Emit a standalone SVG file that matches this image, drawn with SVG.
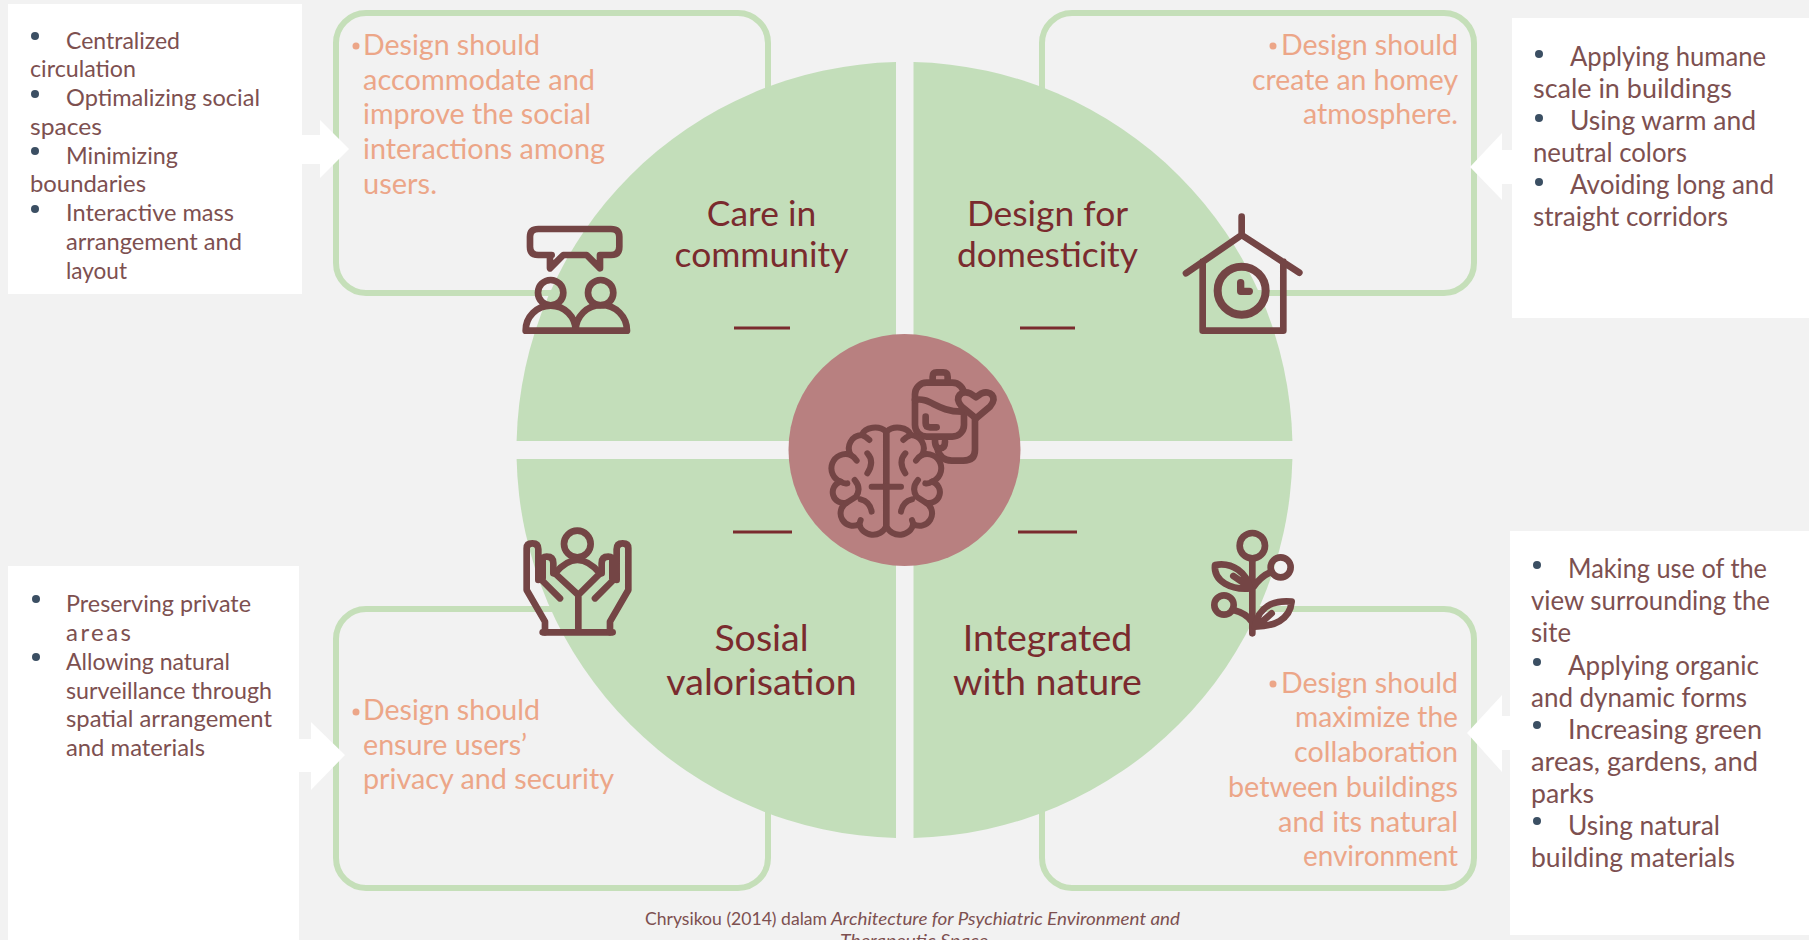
<svg xmlns="http://www.w3.org/2000/svg" width="1809" height="940" viewBox="0 0 1809 940">
<style>
text{font-family:"Lato","Noto Sans",sans-serif}
.l{font-size:24px;fill:#7d5050}
.r{font-size:26px;fill:#7d5050}
.p{font-size:29px;fill:#eca688}
.t{font-size:35.4px;fill:#7a2b2e;text-anchor:middle}
.t2{font-size:37.5px;fill:#7a2b2e;text-anchor:middle}
.f{font-size:18px;fill:#7d5050}
.panel{fill:none;stroke:#c5dfb9;stroke-width:6}
.box{fill:#fff}
.q{fill:#c3deba}
.d{stroke:#7a2b2e;stroke-width:3;fill:none}
.i{fill:none;stroke:#744545;stroke-width:20;stroke-linecap:round;stroke-linejoin:round}
.b{fill:#3b4f63}
.pb{fill:#eca688}
</style>
<rect width="1809" height="940" fill="#f2f2f2"/>
<g id="panels">
<rect class="panel" x="336" y="13" width="432" height="280" rx="30"/>
<rect class="panel" x="1042" y="13" width="432" height="280" rx="30"/>
<rect class="panel" x="336" y="609" width="432" height="279" rx="30"/>
<rect class="panel" x="1042" y="609" width="432" height="279" rx="30"/>
</g>
<g id="quadrants">
<path class="q" d="M896,441H516.6A388,388 0 0 1 896,62.1Z"/>
<path class="q" d="M913.5,441H1292.4A388,388 0 0 0 913.5,62.1Z"/>
<path class="q" d="M896,459H516.6A388,388 0 0 0 896,837.9Z"/>
<path class="q" d="M913.5,459H1292.4A388,388 0 0 1 913.5,837.9Z"/>
</g>
<g id="connectors" fill="#fff">
<path d="M302,135H320V120L349,149L320,178V164H302Z"/>
<path d="M1512,150H1502V133L1470,167L1502,200V184H1512Z"/>
<path d="M299,739H311V722L345,755L311,790V772H299Z"/>
<path d="M1510,716H1502V695L1467,733L1502,772V750H1510Z"/>
</g>
<g id="box-care">
<rect class="box" x="8" y="4" width="294" height="290"/>
<circle class="b" cx="35" cy="36" r="4"/><circle class="b" cx="35" cy="94" r="4"/><circle class="b" cx="35" cy="151" r="4"/><circle class="b" cx="35" cy="209" r="4"/>
<text class="l" lengthAdjust="spacingAndGlyphs" x="66" y="48.5" textLength="114">Centralized</text>
<text class="l" lengthAdjust="spacingAndGlyphs" x="30" y="76.5" textLength="106">circulation</text>
<text class="l" lengthAdjust="spacingAndGlyphs" x="66" y="105.5" textLength="194">Optimalizing social</text>
<text class="l" lengthAdjust="spacingAndGlyphs" x="30" y="134.5" textLength="72">spaces</text>
<text class="l" lengthAdjust="spacingAndGlyphs" x="66" y="164" textLength="112">Minimizing</text>
<text class="l" lengthAdjust="spacingAndGlyphs" x="30" y="192" textLength="116">boundaries</text>
<text class="l" lengthAdjust="spacingAndGlyphs" x="66" y="221" textLength="168">Interactive mass</text>
<text class="l" lengthAdjust="spacingAndGlyphs" x="66" y="250" textLength="176">arrangement and</text>
<text class="l" lengthAdjust="spacingAndGlyphs" x="66" y="279" textLength="61">layout</text>
</g>
<g id="box-domesticity">
<rect class="box" x="1512" y="18" width="297" height="300"/>
<circle class="b" cx="1539" cy="54" r="4"/><circle class="b" cx="1539" cy="118" r="4"/><circle class="b" cx="1539" cy="182" r="4"/>
<text class="r" lengthAdjust="spacingAndGlyphs" x="1570" y="66" textLength="196">Applying humane</text>
<text class="r" lengthAdjust="spacingAndGlyphs" x="1533" y="98" textLength="199">scale in buildings</text>
<text class="r" lengthAdjust="spacingAndGlyphs" x="1570" y="130" textLength="186">Using warm and</text>
<text class="r" lengthAdjust="spacingAndGlyphs" x="1533" y="162" textLength="154">neutral colors</text>
<text class="r" lengthAdjust="spacingAndGlyphs" x="1570" y="194" textLength="204">Avoiding long and</text>
<text class="r" lengthAdjust="spacingAndGlyphs" x="1533" y="226" textLength="195">straight corridors</text>
</g>
<g id="box-valorisation">
<rect class="box" x="8" y="566" width="291" height="374"/>
<circle class="b" cx="36" cy="599" r="4"/><circle class="b" cx="36" cy="657" r="4"/>
<text class="l" lengthAdjust="spacingAndGlyphs" x="66" y="612" textLength="185">Preserving private</text>
<text class="l" x="66" y="641" textLength="65">areas</text>
<text class="l" lengthAdjust="spacingAndGlyphs" x="66" y="670" textLength="164">Allowing natural</text>
<text class="l" lengthAdjust="spacingAndGlyphs" x="66" y="699" textLength="206">surveillance through</text>
<text class="l" lengthAdjust="spacingAndGlyphs" x="66" y="727" textLength="206">spatial arrangement</text>
<text class="l" lengthAdjust="spacingAndGlyphs" x="66" y="756" textLength="139">and materials</text>
</g>
<g id="box-nature">
<rect class="box" x="1510" y="531" width="299" height="404"/>
<circle class="b" cx="1537" cy="565" r="4"/><circle class="b" cx="1537" cy="662" r="4"/><circle class="b" cx="1537" cy="725" r="4"/><circle class="b" cx="1537" cy="821" r="4"/>
<text class="r" lengthAdjust="spacingAndGlyphs" x="1568" y="578" textLength="199">Making use of the</text>
<text class="r" lengthAdjust="spacingAndGlyphs" x="1531" y="610" textLength="239">view surrounding the</text>
<text class="r" lengthAdjust="spacingAndGlyphs" x="1531" y="642" textLength="40">site</text>
<text class="r" lengthAdjust="spacingAndGlyphs" x="1568" y="675" textLength="191">Applying organic</text>
<text class="r" lengthAdjust="spacingAndGlyphs" x="1531" y="707" textLength="216">and dynamic forms</text>
<text class="r" lengthAdjust="spacingAndGlyphs" x="1568" y="739" textLength="194">Increasing green</text>
<text class="r" lengthAdjust="spacingAndGlyphs" x="1531" y="771" textLength="227">areas, gardens, and</text>
<text class="r" lengthAdjust="spacingAndGlyphs" x="1531" y="803" textLength="63">parks</text>
<text class="r" lengthAdjust="spacingAndGlyphs" x="1568" y="835" textLength="152">Using natural</text>
<text class="r" lengthAdjust="spacingAndGlyphs" x="1531" y="867" textLength="204">building materials</text>
</g>
<g id="text-care">
<circle class="pb" cx="356" cy="46" r="3.5"/>
<text class="p" lengthAdjust="spacingAndGlyphs" x="363" y="55" textLength="177">Design should</text>
<text class="p" lengthAdjust="spacingAndGlyphs" x="363" y="89.5" textLength="232">accommodate and</text>
<text class="p" lengthAdjust="spacingAndGlyphs" x="363" y="124" textLength="228">improve the social</text>
<text class="p" lengthAdjust="spacingAndGlyphs" x="363" y="159" textLength="242">interactions among</text>
<text class="p" lengthAdjust="spacingAndGlyphs" x="363" y="194" textLength="74">users.</text>
</g>
<g id="text-domesticity">
<circle class="pb" cx="1273" cy="46" r="3.5"/>
<text class="p" lengthAdjust="spacingAndGlyphs" x="1281" y="55" textLength="177">Design should</text>
<text class="p" lengthAdjust="spacingAndGlyphs" x="1252" y="89.5" textLength="206">create an homey</text>
<text class="p" lengthAdjust="spacingAndGlyphs" x="1303" y="124" textLength="155">atmosphere.</text>
</g>
<g id="text-valorisation">
<circle class="pb" cx="356" cy="712" r="3.5"/>
<text class="p" lengthAdjust="spacingAndGlyphs" x="363" y="720" textLength="177">Design should</text>
<text class="p" lengthAdjust="spacingAndGlyphs" x="363" y="755" textLength="164">ensure users’</text>
<text class="p" lengthAdjust="spacingAndGlyphs" x="363" y="789" textLength="251">privacy and security</text>
</g>
<g id="text-nature">
<circle class="pb" cx="1273" cy="684" r="3.5"/>
<text class="p" lengthAdjust="spacingAndGlyphs" x="1281" y="693" textLength="177">Design should</text>
<text class="p" lengthAdjust="spacingAndGlyphs" x="1295" y="727" textLength="163">maximize the</text>
<text class="p" lengthAdjust="spacingAndGlyphs" x="1294" y="762" textLength="164">collaboration</text>
<text class="p" lengthAdjust="spacingAndGlyphs" x="1228" y="796.5" textLength="230">between buildings</text>
<text class="p" lengthAdjust="spacingAndGlyphs" x="1278" y="831.5" textLength="180">and its natural</text>
<text class="p" lengthAdjust="spacingAndGlyphs" x="1303" y="866" textLength="155">environment</text>
</g>
<g id="node-care">
<text class="t" x="761.5" y="225.5">Care in</text>
<text class="t" x="761.5" y="266.5">community</text>
<path class="d" d="M734,328H790"/>
<g transform="translate(480,180) scale(.3333)" class="i">
<path d="M215,225H175Q150,225 150,200V170Q150,147 175,147H393Q418,147 418,170V200Q418,225 393,225H360V265L320,225H250L210,265V225"/>
<circle cx="212" cy="338" r="38"/><circle cx="362" cy="338" r="38"/>
<path d="M137,452A75,75 0 0 1 287,452A77,77 0 0 1 441,452Z"/>
</g>
</g>
<g id="node-domesticity">
<text class="t" x="1047.5" y="225.5">Design for</text>
<text class="t" x="1047.5" y="266.5">domesticity</text>
<path class="d" d="M1020,328H1075"/>
<g transform="translate(1150,190) scale(.3333)" class="i">
<path d="M108,250L275,135L448,248M275,80V130M158,215V422H400V215"/>
<circle cx="275" cy="302" r="72" style="stroke-width:24"/>
<path d="M272,278V304H298" style="stroke-width:22"/>
</g>
</g>
<g id="node-valorisation">
<path class="d" d="M733,532H792"/>
<text class="t2" x="761.5" y="650.5">Sosial</text>
<text class="t2" x="761.5" y="695">valorisation</text>
<g transform="translate(500,510) scale(.3333)" class="i">
<circle cx="232" cy="102" r="40"/>
<path d="M165,190Q232,110 300,190M165,190L235,255L300,190M235,255V365M128,367H338"/>
<path d="M180,265L125,210M135,367V335L80,240V115Q80,100 97,100Q115,100 115,118V210M128,205V150Q128,140 140,140Q160,140 160,160V190"/>
<path d="M285,265L340,210M330,367V335L385,240V115Q385,100 368,100Q350,100 350,118V210M337,205V150Q337,140 325,140Q305,140 305,160V190"/>
</g>
</g>
<g id="node-nature">
<path class="d" d="M1018,532H1077"/>
<text class="t2" x="1047.5" y="650.5">Integrated</text>
<text class="t2" x="1047.5" y="695">with nature</text>
<g transform="translate(1190,510) scale(.3333)" class="i">
<circle cx="187" cy="107" r="38"/><circle cx="272" cy="172" r="30"/><circle cx="102" cy="285" r="29"/>
<path d="M187,150V370M190,232Q210,200 245,185M130,300Q170,310 185,335"/>
<path d="M75,165C130,155 170,190 180,235C125,240 70,215 75,165ZM130,198L165,222"/>
<path d="M305,275C250,270 205,290 195,350C250,350 300,330 305,275ZM205,345L245,310"/>
</g>
</g>
<g id="node-center">
<circle cx="904.5" cy="450" r="116" fill="#b88080"/>
<g transform="translate(780,340) scale(.3333)" class="i">
<path d="M585,230V330Q585,362 550,362H515Q480,362 472,325"/>
<path d="M465,300Q465,325 480,325Q495,325 495,305"/>
<path d="M458,125V110Q458,97 470,97H490Q503,97 503,110V125"/>
<rect x="405" y="128" width="147" height="162" rx="35" fill="#b88080"/>
<path d="M405,180C450,170 470,215 545,215M437,230V250Q437,262 450,262H470"/>
<path d="M588,235L545,200C520,170 545,150 570,160L588,172L605,160C630,150 655,170 630,200Z" fill="#b88080"/>
<g style="stroke-width:18">
<path d="M318,275A42,32 0 0 0 245,285A40,40 0 0 0 212,345A40,40 0 0 0 182,425A32,32 0 0 0 200,488A36,36 0 0 0 238,552A42,40 0 0 0 318,560V275" fill="#b88080"/>
<path d="M262,340Q285,365 262,400M212,345Q222,350 230,362M245,285Q258,290 268,300M182,425Q192,432 202,430M224,420Q245,445 228,470L200,488M275,440H318M275,515Q270,485 242,478M238,552L242,540"/>
</g>
<g transform="translate(638,0) scale(-1,1)" style="stroke-width:18">
<path d="M318,275A42,32 0 0 0 245,285A40,40 0 0 0 212,345A40,40 0 0 0 182,425A32,32 0 0 0 200,488A36,36 0 0 0 238,552A42,40 0 0 0 318,560V275" fill="#b88080"/>
<path d="M262,340Q285,365 262,400M212,345Q222,350 230,362M245,285Q258,290 268,300M182,425Q192,432 202,430M224,420Q245,445 228,470L200,488M275,440H318M275,515Q270,485 242,478M238,552L242,540"/>
</g>
</g>
</g>
<g id="footer">
<text class="f" lengthAdjust="spacingAndGlyphs" x="645" y="925" textLength="182">Chrysikou (2014) dalam</text>
<text class="f" lengthAdjust="spacingAndGlyphs" x="831" y="925" font-style="italic" textLength="349">Architecture for Psychiatric Environment and</text>
<text class="f" lengthAdjust="spacingAndGlyphs" x="840" y="947" font-style="italic" textLength="148">Therapeutic Space</text>
</g>
</svg>
